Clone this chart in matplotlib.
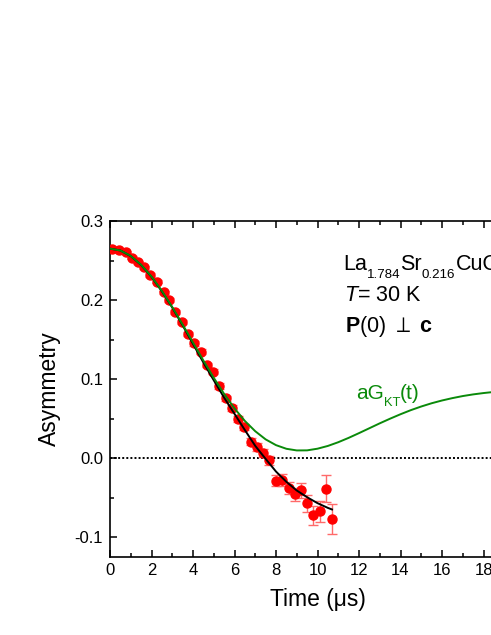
import matplotlib
matplotlib.use("Agg")
import matplotlib.pyplot as plt
from matplotlib.ticker import MultipleLocator

plt.rcParams['font.family'] = ['Liberation Sans', 'DejaVu Sans']
plt.rcParams['mathtext.fontset'] = 'custom'
plt.rcParams['mathtext.rm'] = 'Liberation Sans'
plt.rcParams['mathtext.it'] = 'Liberation Sans:italic'
plt.rcParams['mathtext.bf'] = 'Liberation Sans:bold'

# data points (time in us, asymmetry, error)
t_data = [0.11, 0.43, 0.76, 1.05, 1.34, 1.66, 1.95, 2.25, 2.58, 2.86, 3.15, 3.45,
          3.77, 4.06, 4.37, 4.69, 4.98, 5.27, 5.59, 5.88, 6.17, 6.46, 6.78, 7.07,
          7.39, 7.68, 8.00, 8.29, 8.61, 8.90, 9.19, 9.51, 9.80, 10.12, 10.42, 10.71]
a_data = [0.2646, 0.2629, 0.2603, 0.2535, 0.2477, 0.2414, 0.2316, 0.2232, 0.2097,
          0.2004, 0.1844, 0.1722, 0.1570, 0.1452, 0.1346, 0.1177, 0.1092, 0.0911,
          0.0756, 0.0629, 0.0494, 0.0392, 0.0206, 0.0143, 0.0067, -0.0025, -0.0287,
          -0.0278, -0.0376, -0.0456, -0.0409, -0.0573, -0.0725, -0.0675, -0.0389, -0.0768]
a_err = [0.0015, 0.0016, 0.0017, 0.0018, 0.0019, 0.0020, 0.0021, 0.0022, 0.0023,
         0.0024, 0.0025, 0.0026, 0.0027, 0.0028, 0.0029, 0.0030, 0.0032, 0.0034,
         0.0036, 0.0038, 0.0040, 0.0042, 0.0045, 0.0048, 0.0052, 0.0056, 0.0068,
         0.0072, 0.0075, 0.0082, 0.0093, 0.0105, 0.0120, 0.0135, 0.0170, 0.0190]

# fit curve (black)
t_fit = [0, 0.5, 1, 1.5, 2, 2.5, 3, 3.5, 4, 4.5, 5, 5.5, 6, 6.5, 7, 7.5, 8, 8.5,
         9, 9.5, 10, 10.5, 10.7]
a_fit = [0.265, 0.2627, 0.2556, 0.2443, 0.2293, 0.2110, 0.1905, 0.1680, 0.1445,
         0.1210, 0.0985, 0.0765, 0.0560, 0.0355, 0.0155, -0.0010, -0.0170, -0.0300,
         -0.0410, -0.0495, -0.0570, -0.0630, -0.0650]

# Kubo-Toyabe curve (green)
t_kt = [0, 0.5, 1, 1.5, 2, 2.5, 3, 3.5, 4, 4.5, 5, 5.5, 6, 6.5, 7, 7.5, 8, 8.5, 9,
        9.5, 10, 10.5, 11, 11.5, 12, 12.5, 13, 13.5, 14, 14.5, 15, 15.5, 16, 16.5,
        17, 17.5, 18, 18.5, 19, 19.5, 20]
a_kt = [0.2650, 0.2627, 0.2558, 0.2446, 0.2297, 0.2116, 0.1911, 0.1690, 0.1462,
        0.1235, 0.1016, 0.0812, 0.0629, 0.0470, 0.0340, 0.0237, 0.0164, 0.0118,
        0.0097, 0.0098, 0.0119, 0.0154, 0.0201, 0.0256, 0.0316, 0.0378, 0.0440,
        0.0499, 0.0555, 0.0607, 0.0653, 0.0694, 0.0729, 0.0759, 0.0785, 0.0806,
        0.0823, 0.0837, 0.0848, 0.0857, 0.0864]

W, H = 491, 635
fig = plt.figure(figsize=(W / 100, H / 100), dpi=100)
ax = fig.add_axes([110 / W, (H - 556.5) / H, 415 / W, 335.5 / H])

ax.axhline(0, color='black', lw=1.4, ls=(0, (1, 1.1)), zorder=1)
ax.errorbar(t_data, a_data, yerr=a_err, fmt='none', ecolor='#ff6a6a',
            elinewidth=1.0, capsize=3.5, capthick=1.0, zorder=2)
ax.plot(t_data, a_data, 'o', color='#ff0000', ms=6.5, mec='#ff0000', zorder=3)
ax.plot(t_fit, a_fit, color='black', lw=1.4, zorder=4)
ax.plot(t_kt, a_kt, color='#0a8a0a', lw=1.4, zorder=5)

ax.set_xlim(0, 20)
ax.set_ylim(-0.1245, 0.3)
ax.xaxis.set_major_locator(MultipleLocator(2))
ax.xaxis.set_minor_locator(MultipleLocator(1))
ax.yaxis.set_minor_locator(MultipleLocator(0.05))
ax.set_yticks([-0.1, 0.0, 0.1, 0.2, 0.3])
ax.set_yticklabels(['-0.1', '0.0', '0.1', '0.2', '0.3'])
ax.tick_params(which='both', direction='in', top=True, right=True,
               labelsize=12, width=1.1, pad=5)
ax.tick_params(which='major', length=5)
ax.tick_params(which='minor', length=3)
for s in ax.spines.values():
    s.set_linewidth(1.2)

ax.set_xlabel('Time (\u03bcs)', fontsize=16.5, labelpad=7)
ax.set_ylabel('Asymmetry', fontsize=16.5, labelpad=10)

renderer = fig.canvas.get_renderer()


def chain_text(x_px, y_px, pieces, size, color='black', sub_drop=8):
    """Draw text pieces one after the other; subscript pieces are smaller and lower."""
    x = x_px
    for txt, sub in pieces:
        fs = size * 0.62 if sub else size
        yb = y_px + (sub_drop if sub else 0)
        t = fig.text(x / W, (H - yb) / H, txt, fontsize=fs,
                     va='baseline', ha='left', color=color)
        bb = t.get_window_extent(renderer)
        x += bb.width


chain_text(343, 270, [('La', False), ('1.784', True), ('Sr', False),
                      ('0.216', True), ('CuO', False), ('4', True)], 15.5)
fig.text(344 / W, 1 - 301 / H, r'$\mathit{T}$= 30 K', fontsize=15.5, va='baseline')
fig.text(345 / W, 1 - 332 / H, r'$\mathbf{P}$(0) $\perp$ $\mathbf{c}$',
         fontsize=15.5, va='baseline')
chain_text(356, 399, [('aG', False), ('KT', True), ('(t)', False)], 15,
           color='#0a8a0a', sub_drop=7)

fig.savefig('out.png', dpi=100)
